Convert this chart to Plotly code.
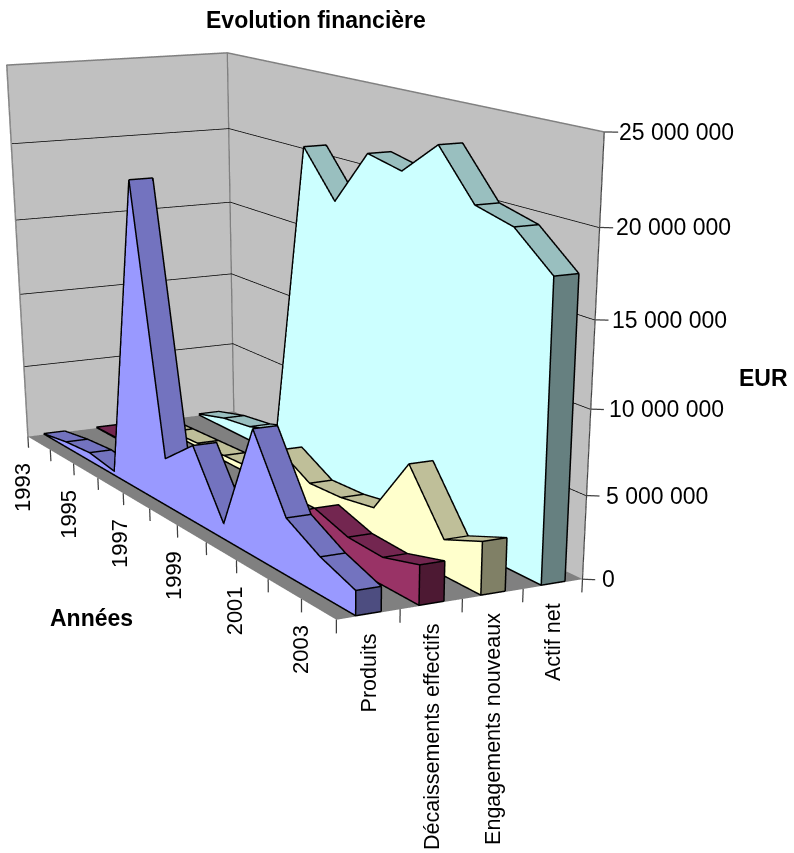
import plotly.graph_objects as go

# ---- data ----
years = list(range(1993, 2005))
year_labels = {1993: "1993", 1995: "1995", 1997: "1997", 1999: "1999", 2001: "2001", 2003: "2003"}
series_names = ["Produits", "Décaissements effectifs", "Engagements nouveaux", "Actif net"]
produits = [50000, 400000, 600000, 300000, 19700000, 3100000, 4900000, 1000000, 7800000, 3500000, 2300000, 1500000]
decaissements = [50000, 100000, 150000, 200000, 200000, 200000, 300000, 1000000, 2500000, 1800000, 1700000, 2400000]
engagements = [100000, 200000, 300000, 400000, 500000, 2700000, 1500000, 1600000, 2000000, 5700000, 2200000, 3200000]
actif_net = [100000, 700000, 1000000, 1700000, 20900000, 18100000, 21500000, 21000000, 23000000, 20200000, 19600000, 17600000]
z_ticks = [0, 5000000, 10000000, 15000000, 20000000, 25000000]

front_colors = ["#9999FF", "#993366", "#FFFFCC", "#CCFFFF"]
top_colors = ["#7373BF", "#732650", "#BFBF99", "#99BFBF"]
cap_colors = ["#4D4D80", "#4D1933", "#808066", "#668080"]
FONT = "Liberation Sans"

# ---- scene geometry ----
# The reference has a very long lens; a tall figure gives the scene that lens.
# Only the top 853 px are inside the window.
W, H = 794, 2000
VIEW_W = 630
n = len(years)
xmax = n - 1
ymax = len(series_names)
ztop = z_ticks[-1]
dx, dy, dz = 0.02, -0.012, 50000   # lift outlines a hair towards the camera


def quad_mesh(quads, colors):
    xs, ys, zs, i, j, k, fc = [], [], [], [], [], [], []
    for q, col in zip(quads, colors):
        b = len(xs)
        for p in q:
            xs.append(p[0]); ys.append(p[1]); zs.append(p[2])
        i += [b, b]; j += [b + 1, b + 2]; k += [b + 2, b + 3]
        fc += [col, col]
    return go.Mesh3d(x=xs, y=ys, z=zs, i=i, j=j, k=k, facecolor=fc, flatshading=True,
                     lighting=dict(ambient=1, diffuse=0, specular=0, fresnel=0, roughness=1),
                     hoverinfo="skip", showscale=False)


def lines(segments, color, width):
    xs, ys, zs = [], [], []
    for seg in segments:
        for p in seg:
            xs.append(p[0]); ys.append(p[1]); zs.append(p[2])
        xs.append(None); ys.append(None); zs.append(None)
    return go.Scatter3d(x=xs, y=ys, z=zs, mode="lines", line=dict(color=color, width=width), hoverinfo="skip")


fig = go.Figure()

# walls and floor
fig.add_trace(quad_mesh([
    [(0, 0, 0), (0, ymax, 0), (0, ymax, ztop), (0, 0, ztop)],
    [(0, ymax, 0), (xmax, ymax, 0), (xmax, ymax, ztop), (0, ymax, ztop)],
    [(0, 0, 0), (xmax, 0, 0), (xmax, ymax, 0), (0, ymax, 0)],
], ["#C0C0C0", "#C0C0C0", "#808080"]))

# gridlines
fig.add_trace(lines([[(0.03, 0, z), (0.03, ymax - 0.01, z), (xmax, ymax - 0.01, z)] for z in z_ticks[1:-1]],
                    "#000000", 1.5))

# wall outlines
fig.add_trace(lines([
    [(0, 0, 0), (0, 0, ztop), (0, ymax, ztop), (xmax, ymax, ztop)],
    [(0.02, ymax - 0.01, 0), (0.02, ymax - 0.01, ztop)],
    [(0, 0, 0), (0, ymax, 0), (xmax, ymax, 0)],
], "#808080", 3))

# axis line and tick marks
ticks = [[(xmax, ymax, 0), (xmax, ymax, ztop)]]
ticks += [[(xmax, ymax, z), (xmax + 0.1, ymax + 0.148, z)] for z in z_ticks]
ticks += [[(k, 0, 0), (k, 0, -800000)] for k in range(n)]
ticks += [[(xmax, s, 0), (xmax, s, -800000)] for s in range(ymax + 1)]
fig.add_trace(lines(ticks, "#404040", 2.5))

# ribbons
for s, vals in enumerate([produits, decaissements, engagements, actif_net]):
    y0, y1 = s + 0.3, s + 0.7
    base = 30000
    quads, cols = [], []
    for k in range(n - 1):
        a, b = vals[k], vals[k + 1]
        quads.append([(k, y0, base), (k + 1, y0, base), (k + 1, y0, b), (k, y0, a)]); cols.append(front_colors[s])
        quads.append([(k, y1, base), (k + 1, y1, base), (k + 1, y1, b), (k, y1, a)]); cols.append(top_colors[s])
        quads.append([(k, y0, a), (k + 1, y0, b), (k + 1, y1, b), (k, y1, a)]); cols.append(top_colors[s])
    quads.append([(xmax, y0, base), (xmax, y1, base), (xmax, y1, vals[-1]), (xmax, y0, vals[-1])]); cols.append(cap_colors[s])
    quads.append([(0, y0, base), (0, y1, base), (0, y1, vals[0]), (0, y0, vals[0])]); cols.append(cap_colors[s])
    fig.add_trace(quad_mesh(quads, cols))

    segs = [
        [(k + dx, y0 + dy, vals[k] + dz) for k in range(n)],
        [(k + dx, y1 + dy, vals[k] + dz) for k in range(n)],
        [(dx, y0 + dy, base + dz), (xmax + dx, y0 + dy, base + dz), (xmax + dx, y1 + dy, base + dz)],
        [(xmax + dx, y0 + dy, base + dz), (xmax + dx, y0 + dy, vals[-1] + dz)],
        [(xmax + dx, y1 + dy, base + dz), (xmax + dx, y1 + dy, vals[-1] + dz)],
    ]
    segs += [[(k + dx, y0 + dy, vals[k] + dz), (k + dx, y1 + dy, vals[k] + dz)] for k in range(n)]
    fig.add_trace(lines(segs, "#000000", 3))

# tick labels, attached to the scene axes
ann = []
for k, yr in enumerate(years):
    if yr in year_labels:
        ann.append(dict(x=k, y=0, z=0, text=year_labels[yr], textangle=-90, showarrow=False,
                        xanchor="center", yanchor="top", yshift=-24, xshift=-6 + 0.5 * k,
                        font=dict(family=FONT, size=22, color="#000000")))
for s, name in enumerate(series_names):
    ann.append(dict(x=xmax, y=s + 0.5, z=0, text=name, textangle=-90, showarrow=False,
                    xanchor="center", yanchor="top", yshift=-17,
                    font=dict(family=FONT, size=21.5, color="#000000")))
for z in z_ticks:
    ann.append(dict(x=xmax, y=ymax, z=z, text=f"{z:,}".replace(",", " "), showarrow=False,
                    xanchor="left", yanchor="middle", xshift=18 - 5 * z / ztop,
                    font=dict(family=FONT, size=23, color="#000000")))


def axis(rng):
    return dict(range=rng, autorange=False, showgrid=False, zeroline=False, showline=False,
                showticklabels=False, ticks="", showbackground=False, showspikes=False, title="")


fig.update_layout(
    width=W, height=H, margin=dict(l=0, r=0, t=0, b=0), showlegend=False, paper_bgcolor="#FFFFFF",
    scene=dict(
        domain=dict(x=[0, VIEW_W / W], y=[0, 1]),
        xaxis=axis([-1, 12]), yaxis=axis([-1, 5]), zaxis=axis([-2000000, 26000000]),
        aspectmode="manual", aspectratio=dict(x=1, y=0.4373, z=0.4981),
        camera=dict(eye=dict(x=2.4785, y=-1.228, z=0.5404), center=dict(x=0.7187, y=-0.3232, z=-0.4648),
                    up=dict(x=1.1007, y=-0.5647, z=1), projection=dict(type="perspective")),
        annotations=ann,
    ),
)
for text, px, py in [("Evolution financière", 316, 20), ("EUR", 763, 378), ("Années", 91, 618)]:
    fig.add_annotation(x=px / W, y=1 - py / H, xref="paper", yref="paper", text=f"<b>{text}</b>",
                       showarrow=False, xanchor="center", yanchor="middle",
                       font=dict(family=FONT, size=23, color="#000000"))

fig.write_html("out.html", config=dict(displayModeBar=False),
               post_script="document.body.style.margin='0';document.documentElement.style.overflow='hidden'")
